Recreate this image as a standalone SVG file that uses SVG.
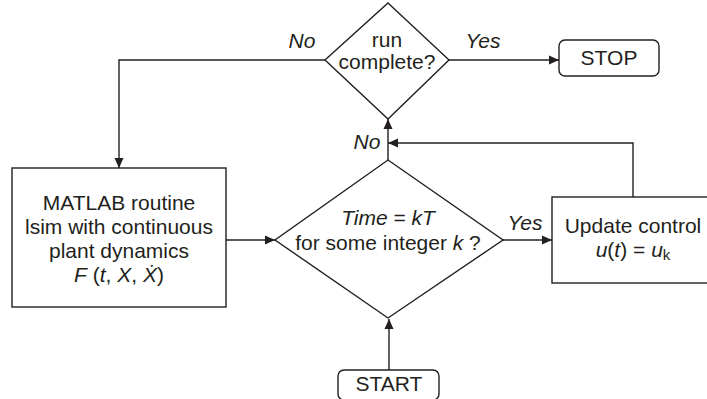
<svg xmlns="http://www.w3.org/2000/svg" width="707" height="399" viewBox="0 0 707 399">
<style>
.s{fill:#fff;stroke:#231f20;stroke-width:1.4}
.l{fill:none;stroke:#231f20;stroke-width:1.4}
text{font-family:"Liberation Sans",Arial,sans-serif;font-size:21px;fill:#231f20;text-anchor:middle}
.i{font-style:italic}
</style>
<defs>
<marker id="a" viewBox="0 0 10 10" refX="10" refY="5" markerWidth="10" markerHeight="10" markerUnits="userSpaceOnUse" orient="auto">
<path d="M0,0.5 L10,5 L0,9.5 Z" fill="#231f20"/>
</marker>
</defs>
<g id="connectors">
<path class="l" d="M389,370 V319" marker-end="url(#a)"/>
<path class="l" d="M226,240 H275" marker-end="url(#a)"/>
<path class="l" d="M503,240 H552" marker-end="url(#a)"/>
<path class="l" d="M633,197 V143 H388" marker-end="url(#a)"/>
<path class="l" d="M388,160 V119" marker-end="url(#a)"/>
<path class="l" d="M449,60 H559" marker-end="url(#a)"/>
<path class="l" d="M325,60 H119 V168" marker-end="url(#a)"/>
<text class="i" x="302" y="48">No</text>
<text class="i" x="483" y="48">Yes</text>
<text class="i" x="367" y="149">No</text>
<text class="i" x="525" y="230">Yes</text>
</g>
<g id="start">
<rect class="s" x="338" y="370" width="101" height="30" rx="6"/>
<text x="389" y="391">START</text>
</g>
<g id="stop">
<rect class="s" x="559" y="40" width="100" height="36" rx="6"/>
<text x="609" y="65">STOP</text>
</g>
<g id="runComplete">
<path class="s" d="M388,3 L449,60 L388,119 L325,60 Z"/>
<text x="387" y="47">run</text>
<text x="387" y="69">complete?</text>
</g>
<g id="timeCheck">
<path class="s" d="M388,160 L503,240 L388,318 L275,240 Z"/>
<text x="388" y="225"><tspan class="i">Time</tspan> = <tspan class="i">kT</tspan></text>
<text x="388" y="250">for some integer <tspan class="i">k</tspan> ?</text>
</g>
<g id="matlab">
<rect class="s" x="12" y="168" width="214" height="139"/>
<text x="119" y="210">MATLAB routine</text>
<text x="119" y="234">lsim with continuous</text>
<text x="119" y="258">plant dynamics</text>
<text x="119" y="282"><tspan class="i">F</tspan> (<tspan class="i">t</tspan>, <tspan class="i">X</tspan>, <tspan class="i">Ẋ</tspan>)</text>
</g>
<g id="update">
<rect class="s" x="552" y="197" width="162" height="86"/>
<text x="633" y="233">Update control</text>
<text x="633" y="257"><tspan class="i">u</tspan>(<tspan class="i">t</tspan>) = <tspan class="i">u</tspan><tspan font-size="15" dy="3">k</tspan></text>
</g>
</svg>
